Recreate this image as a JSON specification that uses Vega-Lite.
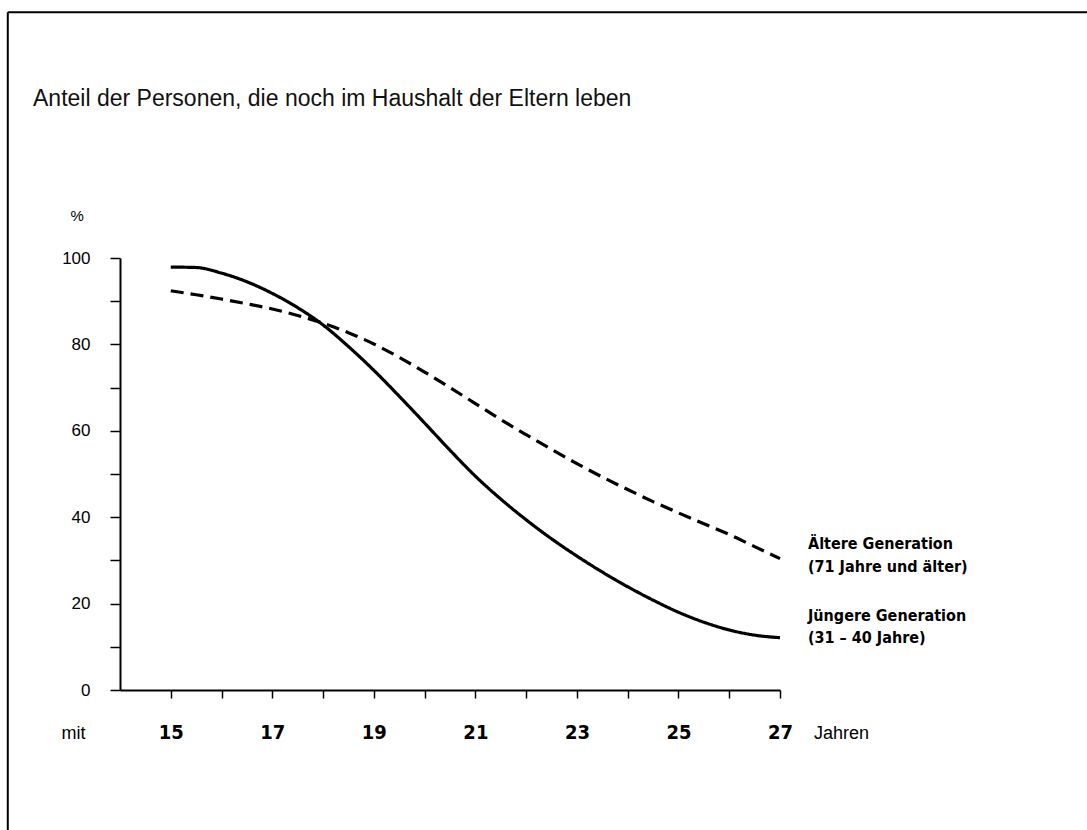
{
  "$schema": "https://vega.github.io/schema/vega-lite/v6.json",
  "width": 660,
  "height": 432,
  "autosize": {"type": "none"},
  "padding": {"left": 120, "top": 258, "right": 307, "bottom": 140},
  "background": "white",
  "config": {"view": {"stroke": null}, "font": "Liberation Sans"},
  "title": {
    "text": "Anteil der Personen, die noch im Haushalt der Eltern leben",
    "anchor": "start",
    "frame": "group",
    "dx": -87,
    "offset": -118,
    "baseline": "alphabetic",
    "font": "Liberation Sans",
    "fontSize": 23,
    "fontWeight": "normal",
    "color": "#111111"
  },
  "datasets": {
    "kurven": [
      {"serie": "Jüngere Generation", "jahr": 15, "anteil": 97.9},
      {"serie": "Jüngere Generation", "jahr": 15.5, "anteil": 97.8},
      {"serie": "Jüngere Generation", "jahr": 16, "anteil": 96.5},
      {"serie": "Jüngere Generation", "jahr": 16.5, "anteil": 94.5},
      {"serie": "Jüngere Generation", "jahr": 17, "anteil": 91.8},
      {"serie": "Jüngere Generation", "jahr": 17.5, "anteil": 88.5},
      {"serie": "Jüngere Generation", "jahr": 18, "anteil": 84.5},
      {"serie": "Jüngere Generation", "jahr": 18.5, "anteil": 79.5},
      {"serie": "Jüngere Generation", "jahr": 19, "anteil": 74},
      {"serie": "Jüngere Generation", "jahr": 19.5, "anteil": 68},
      {"serie": "Jüngere Generation", "jahr": 20, "anteil": 61.8},
      {"serie": "Jüngere Generation", "jahr": 20.5, "anteil": 55.5},
      {"serie": "Jüngere Generation", "jahr": 21, "anteil": 49.5},
      {"serie": "Jüngere Generation", "jahr": 21.5, "anteil": 44.2},
      {"serie": "Jüngere Generation", "jahr": 22, "anteil": 39.4},
      {"serie": "Jüngere Generation", "jahr": 22.5, "anteil": 35},
      {"serie": "Jüngere Generation", "jahr": 23, "anteil": 31},
      {"serie": "Jüngere Generation", "jahr": 23.5, "anteil": 27.3},
      {"serie": "Jüngere Generation", "jahr": 24, "anteil": 23.9},
      {"serie": "Jüngere Generation", "jahr": 24.5, "anteil": 20.8},
      {"serie": "Jüngere Generation", "jahr": 25, "anteil": 18},
      {"serie": "Jüngere Generation", "jahr": 25.5, "anteil": 15.7},
      {"serie": "Jüngere Generation", "jahr": 26, "anteil": 13.9},
      {"serie": "Jüngere Generation", "jahr": 26.5, "anteil": 12.7},
      {"serie": "Jüngere Generation", "jahr": 27, "anteil": 12.1},
      {"serie": "Ältere Generation", "jahr": 15, "anteil": 92.4},
      {"serie": "Ältere Generation", "jahr": 15.5, "anteil": 91.5},
      {"serie": "Ältere Generation", "jahr": 16, "anteil": 90.5},
      {"serie": "Ältere Generation", "jahr": 16.5, "anteil": 89.4},
      {"serie": "Ältere Generation", "jahr": 17, "anteil": 88.2},
      {"serie": "Ältere Generation", "jahr": 17.5, "anteil": 86.7},
      {"serie": "Ältere Generation", "jahr": 18, "anteil": 84.9},
      {"serie": "Ältere Generation", "jahr": 18.5, "anteil": 82.7},
      {"serie": "Ältere Generation", "jahr": 19, "anteil": 80.1},
      {"serie": "Ältere Generation", "jahr": 19.5, "anteil": 77},
      {"serie": "Ältere Generation", "jahr": 20, "anteil": 73.6},
      {"serie": "Ältere Generation", "jahr": 20.5, "anteil": 70},
      {"serie": "Ältere Generation", "jahr": 21, "anteil": 66.3},
      {"serie": "Ältere Generation", "jahr": 21.5, "anteil": 62.6},
      {"serie": "Ältere Generation", "jahr": 22, "anteil": 59.1},
      {"serie": "Ältere Generation", "jahr": 22.5, "anteil": 55.7},
      {"serie": "Ältere Generation", "jahr": 23, "anteil": 52.4},
      {"serie": "Ältere Generation", "jahr": 23.5, "anteil": 49.3},
      {"serie": "Ältere Generation", "jahr": 24, "anteil": 46.4},
      {"serie": "Ältere Generation", "jahr": 24.5, "anteil": 43.6},
      {"serie": "Ältere Generation", "jahr": 25, "anteil": 41},
      {"serie": "Ältere Generation", "jahr": 25.5, "anteil": 38.5},
      {"serie": "Ältere Generation", "jahr": 26, "anteil": 36},
      {"serie": "Ältere Generation", "jahr": 26.5, "anteil": 33.2},
      {"serie": "Ältere Generation", "jahr": 27, "anteil": 30.4}
    ],
    "beschriftungen": [
      {"serie": "Ältere Generation", "text": "Ältere Generation\n(71 Jahre und älter)"},
      {"serie": "Jüngere Generation", "text": "Jüngere Generation\n(31 – 40 Jahre)"}
    ],
    "rahmen": [{}]
  },
  "layer": [
    {
      "data": {"name": "kurven"},
      "mark": {"type": "line", "interpolate": "monotone", "color": "#000000", "strokeWidth": 3.2, "clip": false},
      "encoding": {
        "x": {
          "field": "jahr",
          "type": "quantitative",
          "scale": {"domain": [14, 27], "nice": false, "zero": false},
          "axis": {
            "values": [14, 15, 16, 17, 18, 19, 20, 21, 22, 23, 24, 25, 26, 27],
            "labelExpr": "datum.value == 14 ? 'mit' : (datum.value % 2 == 1 ? datum.label : '')",
            "grid": false,
            "tickSize": 8,
            "tickWidth": 1.5,
            "tickColor": "#000000",
            "tickOpacity": {"condition": {"test": "datum.value == 14", "value": 0}, "value": 1},
            "domainColor": "#000000",
            "domainWidth": 2,
            "labelPadding": 40,
            "labelBaseline": "alphabetic",
            "labelColor": "#000000",
            "labelFont": {"condition": {"test": "datum.value == 14", "value": "Liberation Sans"}, "value": "DejaVu Sans Condensed, Liberation Sans, sans-serif"},
            "labelFontSize": {"condition": {"test": "datum.value == 14", "value": 18}, "value": 20},
            "labelFontWeight": {"condition": {"test": "datum.value == 14", "value": "normal"}, "value": "bold"},
            "labelOffset": {"condition": {"test": "datum.value == 14", "value": -47}, "value": 0},
            "labelOverlap": false,
            "labelFlush": false,
            "title": "Jahren",
            "titleX": 721,
            "titleY": 48,
            "titleAlign": "center",
            "titleBaseline": "alphabetic",
            "titleFont": "Liberation Sans",
            "titleFontSize": 18,
            "titleFontWeight": "normal",
            "titleColor": "#000000"
          }
        },
        "y": {
          "field": "anteil",
          "type": "quantitative",
          "scale": {"domain": [0, 100], "nice": false},
          "axis": {
            "values": [0, 10, 20, 30, 40, 50, 60, 70, 80, 90, 100],
            "labelExpr": "datum.value % 20 == 0 ? datum.label : ''",
            "grid": false,
            "tickSize": 10,
            "tickWidth": 1.5,
            "tickColor": "#000000",
            "domainColor": "#000000",
            "domainWidth": 2,
            "labelPadding": 20,
            "labelColor": "#000000",
            "labelFont": "Liberation Sans",
            "labelFontSize": 17,
            "title": "%",
            "titleAngle": 0,
            "titleX": -50,
            "titleY": -43,
            "titleAlign": "left",
            "titleBaseline": "middle",
            "titleFont": "Liberation Sans",
            "titleFontSize": 15,
            "titleFontWeight": "normal",
            "titleColor": "#000000"
          }
        },
        "strokeDash": {
          "field": "serie",
          "type": "nominal",
          "scale": {"domain": ["Jüngere Generation", "Ältere Generation"], "range": [[1, 0], [13, 7]]},
          "legend": null
        },
        "detail": {"field": "serie", "type": "nominal"}
      }
    },
    {
      "data": {"name": "kurven"},
      "transform": [
        {"filter": "datum.jahr == 27 && datum.serie == 'Ältere Generation'"},
        {"lookup": "serie", "from": {"data": {"name": "beschriftungen"}, "key": "serie", "fields": ["text"]}}
      ],
      "mark": {"type": "text", "align": "left", "baseline": "middle", "dx": 28, "dy": -15, "lineBreak": "\n", "lineHeight": 23, "font": "DejaVu Sans Condensed, Liberation Sans, sans-serif", "fontSize": 16, "fontWeight": "bold", "color": "#000000", "clip": false},
      "encoding": {
        "x": {"field": "jahr", "type": "quantitative"},
        "y": {"field": "anteil", "type": "quantitative"},
        "text": {"field": "text", "type": "nominal"}
      }
    },
    {
      "data": {"name": "kurven"},
      "transform": [
        {"filter": "datum.jahr == 27 && datum.serie == 'Jüngere Generation'"},
        {"lookup": "serie", "from": {"data": {"name": "beschriftungen"}, "key": "serie", "fields": ["text"]}}
      ],
      "mark": {"type": "text", "align": "left", "baseline": "middle", "dx": 28, "dy": -22, "lineBreak": "\n", "lineHeight": 22, "font": "DejaVu Sans Condensed, Liberation Sans, sans-serif", "fontSize": 16, "fontWeight": "bold", "color": "#000000", "clip": false},
      "encoding": {
        "x": {"field": "jahr", "type": "quantitative"},
        "y": {"field": "anteil", "type": "quantitative"},
        "text": {"field": "text", "type": "nominal"}
      }
    },
    {
      "data": {"name": "rahmen"},
      "mark": {"type": "rule", "color": "#000000", "strokeWidth": 2, "clip": false},
      "encoding": {
        "x": {"datum": 11.79, "type": "quantitative"},
        "x2": {"datum": 33.05},
        "y": {"datum": 156.9, "type": "quantitative"}
      }
    },
    {
      "data": {"name": "rahmen"},
      "mark": {"type": "rule", "color": "#000000", "strokeWidth": 2, "clip": false},
      "encoding": {
        "x": {"datum": 11.79, "type": "quantitative"},
        "y": {"datum": 156.9, "type": "quantitative"},
        "y2": {"datum": -32.4}
      }
    }
  ]
}
